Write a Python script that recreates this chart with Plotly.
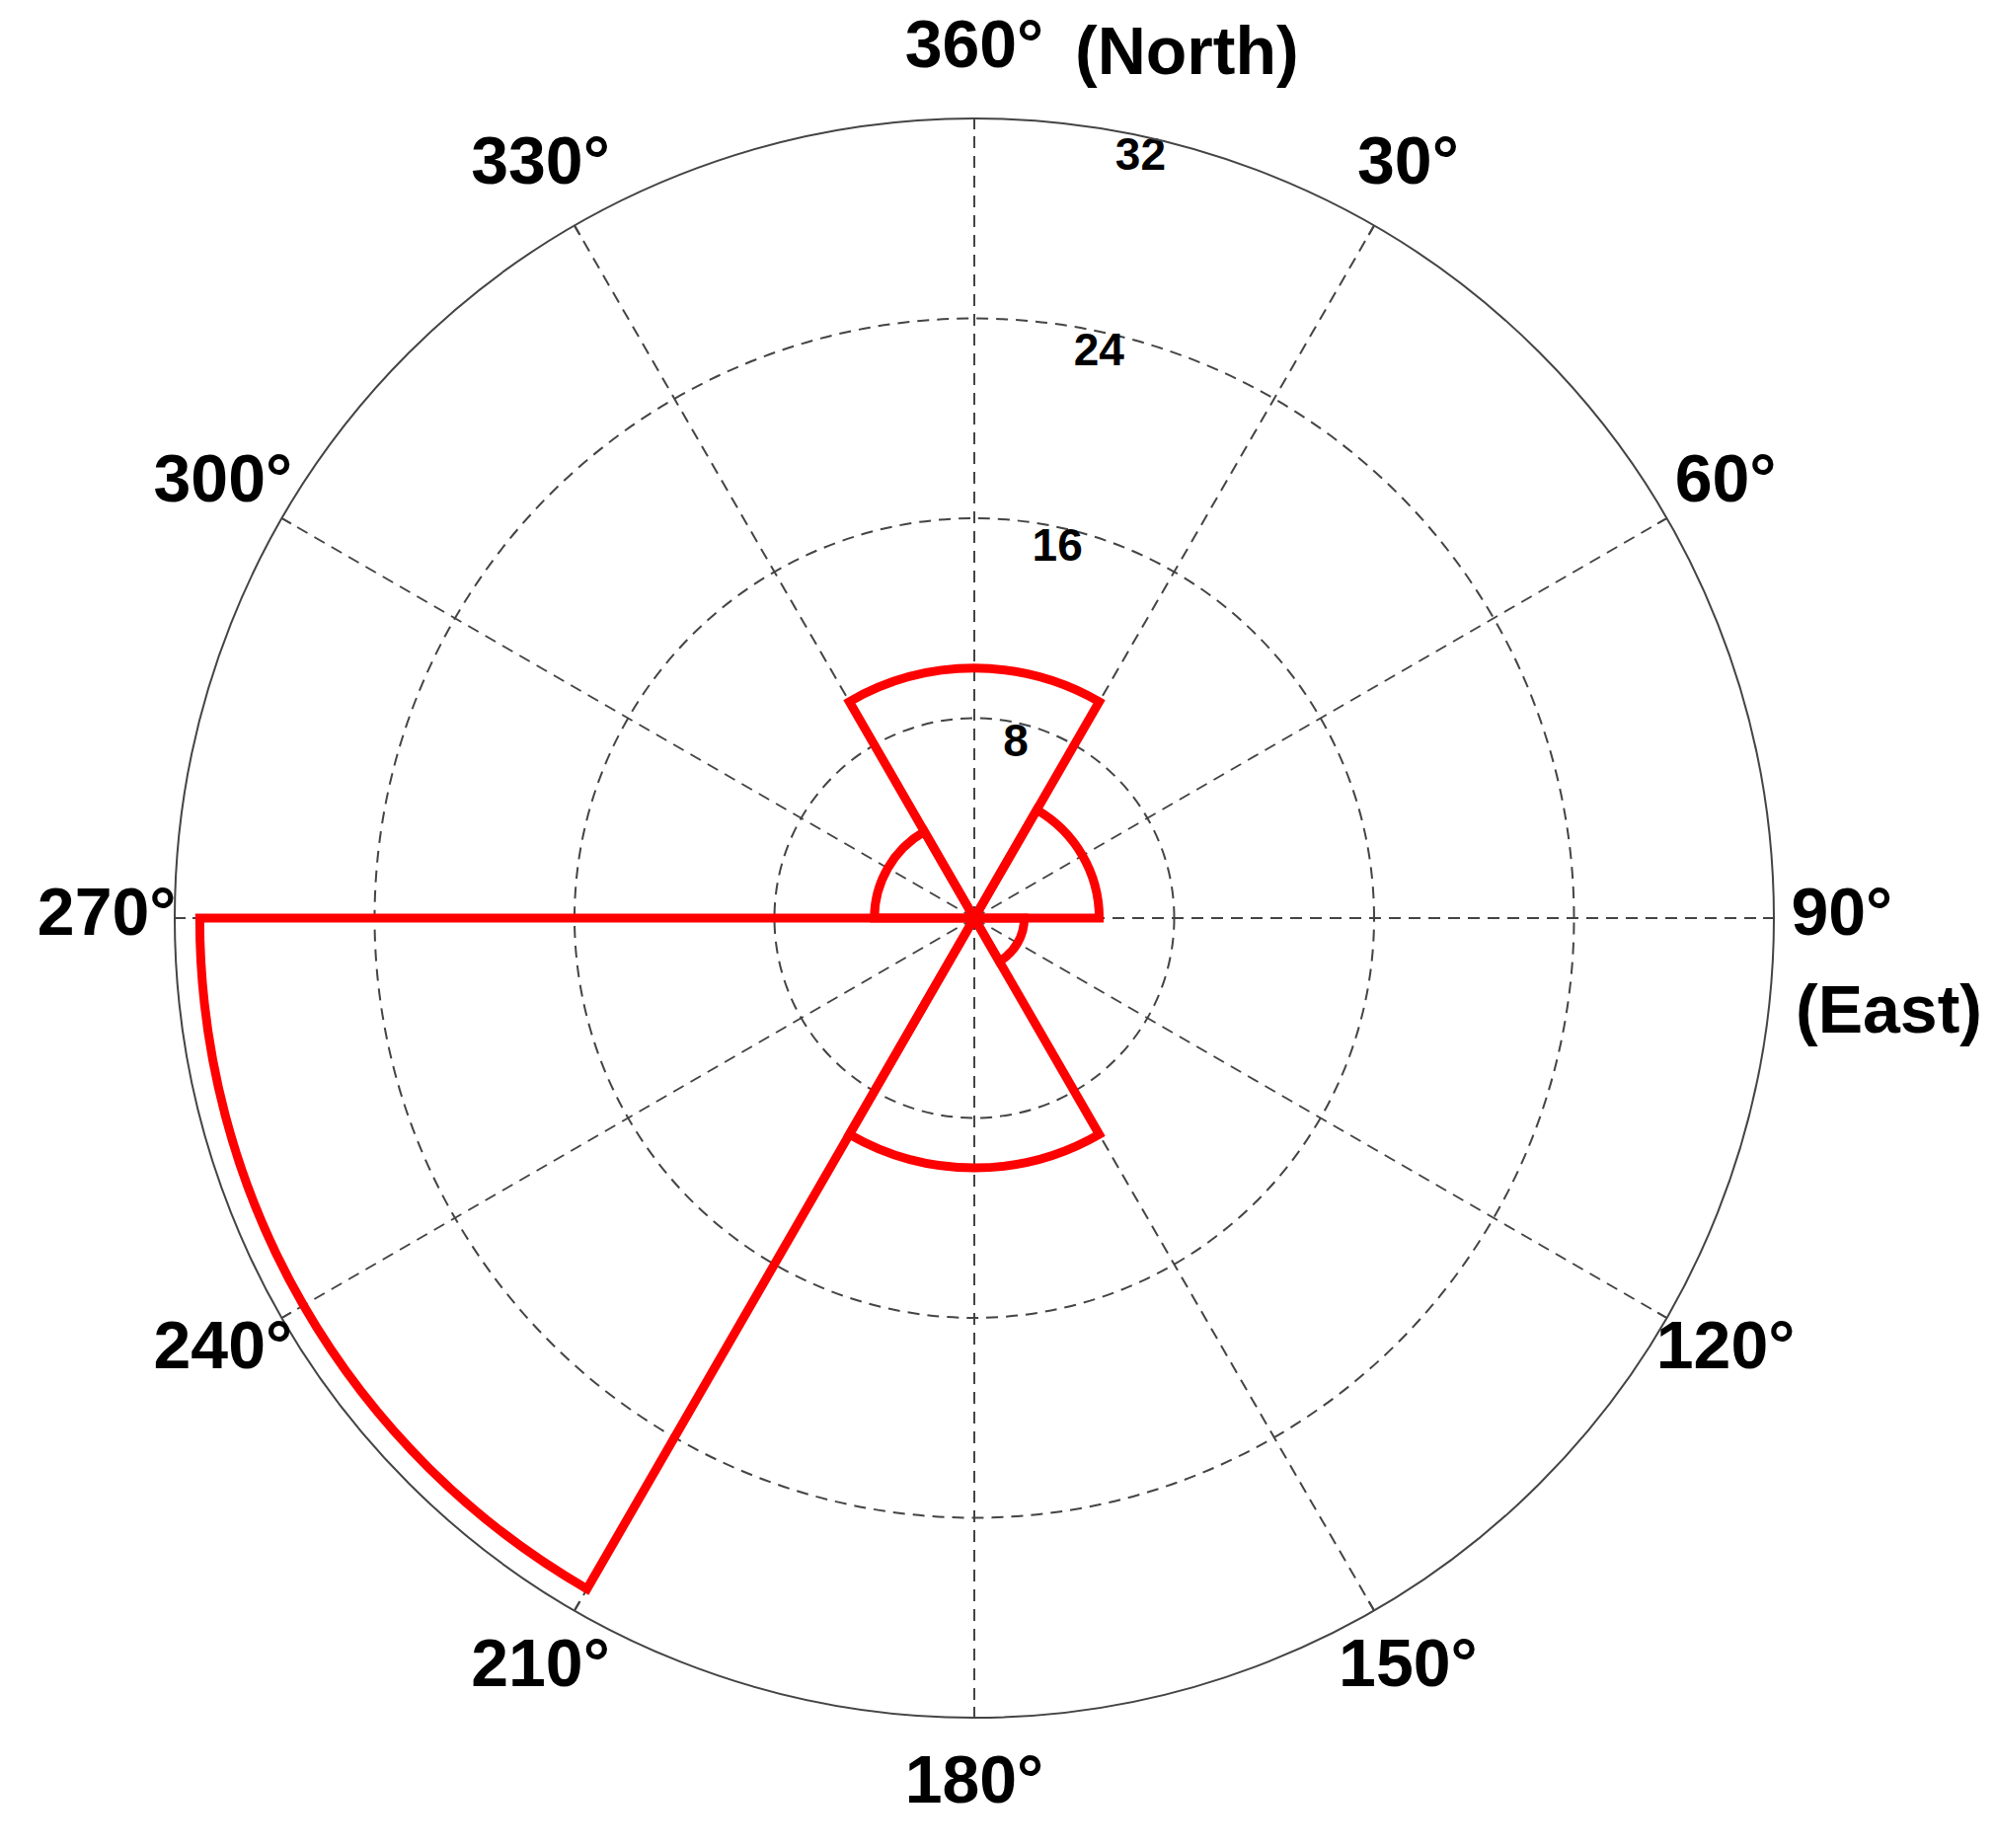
import plotly.graph_objects as go

# 60 degree bins, compass angles (clockwise from north)
bin_centers = [0, 60, 120, 180, 240, 300]
counts = [10, 5, 2, 10, 31, 4]
bin_width = 60

radial_ticks = [8, 16, 24, 32]
angle_ticks = [0, 30, 60, 90, 120, 150, 180, 210, 240, 270, 300, 330]
angle_labels = ['360°', '30°', '60°', '90°', '120°', '150°', '180°',
                '210°', '240°', '270°', '300°', '330°']

W, H = 2021, 1872
cx, cy, R = 979, 922, 810
rmax = 32
label_pos = 1.085   # angle labels sit just outside the rim, centred (matlab style)
outer = 1.135       # second, invisible polar that holds those labels


def polar_domain(radius):
    return dict(x=[(cx - radius) / W, (cx + radius) / W],
                y=[(H - cy - radius) / H, (H - cy + radius) / H])


fig = go.Figure()
fig.add_trace(go.Barpolar(
    r=counts, theta=bin_centers, width=[bin_width] * len(counts),
    marker=dict(color='rgba(0,0,0,0)', line=dict(color='#ff0000', width=9)),
    showlegend=False, hoverinfo='r+theta'))

fig.add_trace(go.Scatterpolar(
    r=radial_ticks, theta=[12] * len(radial_ticks),
    text=[str(v) for v in radial_ticks],
    mode='text', textposition='bottom center', cliponaxis=False,
    textfont=dict(size=46, weight='bold', color='black'),
    showlegend=False, hoverinfo='skip'))

fig.add_trace(go.Scatterpolar(
    r=[rmax * label_pos] * len(angle_ticks), theta=angle_ticks,
    text=angle_labels, subplot='polar2',
    mode='text', textposition='middle center', cliponaxis=False,
    textfont=dict(size=68, weight='bold', color='black'),
    showlegend=False, hoverinfo='skip'))

fig.update_layout(
    width=W, height=H,
    margin=dict(l=0, r=0, t=0, b=0),
    paper_bgcolor='white',
    font=dict(family='Liberation Sans', color='black'),
    polar=dict(
        domain=polar_domain(R),
        bgcolor='white',
        angularaxis=dict(
            rotation=90, direction='clockwise',
            tickmode='array', tickvals=angle_ticks, showticklabels=False,
            showline=True, linecolor='#444', linewidth=2,
            ticks='inside', ticklen=10, tickcolor='#444', tickwidth=2,
            showgrid=True, gridcolor='#444', gridwidth=2, griddash='12px,8px'),
        radialaxis=dict(
            range=[0, rmax], tickmode='array', tickvals=radial_ticks,
            showticklabels=False, showline=False, ticks='',
            showgrid=True, gridcolor='#444', gridwidth=2, griddash='12px,8px'),
    ),
    polar2=dict(
        domain=polar_domain(R * outer),
        bgcolor='rgba(0,0,0,0)',
        angularaxis=dict(rotation=90, direction='clockwise', visible=False),
        radialaxis=dict(range=[0, rmax * outer], visible=False),
    ),
)

north_y = cy - R * label_pos
fig.add_annotation(text='(North)', xref='paper', yref='paper',
                   x=1079 / W, y=1 - north_y / H, showarrow=False,
                   xanchor='left', yanchor='middle',
                   font=dict(size=68, weight='bold'))
fig.add_annotation(text='(East)', xref='paper', yref='paper',
                   x=1809 / W, y=1 - 1014 / H, showarrow=False,
                   xanchor='left', yanchor='middle',
                   font=dict(size=68, weight='bold'))

fig.write_html('out.html')
